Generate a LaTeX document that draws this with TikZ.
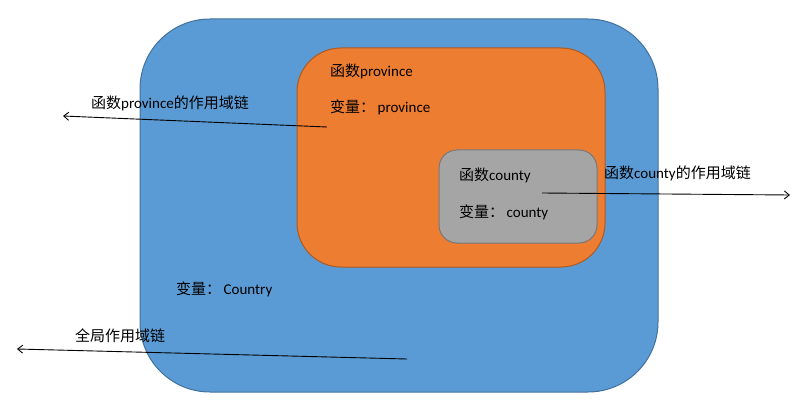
\documentclass[tikz,border=0pt]{standalone}
\usepackage{fontspec}
\setmainfont{Carlito}
\newfontfamily\cjk{Noto Sans CJK SC}
\usetikzlibrary{arrows.meta}
\definecolor{bluefill}{HTML}{5B9BD5}
\definecolor{blueline}{HTML}{41719C}
\definecolor{orfill}{HTML}{ED7D31}
\definecolor{orline}{HTML}{AE5A21}
\definecolor{grfill}{HTML}{A5A5A5}
\definecolor{grline}{HTML}{787878}
\tikzset{
  lbl/.style={anchor=west, inner sep=0pt, font=\fontsize{15}{18}\selectfont, text=black},
  chain/.style={draw=black, line width=0.9pt, -{Straight Barb[length=5pt,width=8pt]}},
}
\begin{document}
\begin{tikzpicture}[x=1pt,y=-1pt]
\useasboundingbox (0,0) rectangle (797,414);
\draw[fill=bluefill, draw=blueline, line width=1pt, rounded corners=70] (140,19) rectangle (658,392);
\draw[fill=orfill, draw=orline, line width=1pt, rounded corners=44] (297,48) rectangle (605,267);
\draw[fill=grfill, draw=grline, line width=1pt, rounded corners=18] (439,150) rectangle (597,243);

\node[lbl] (fp) at (330,71) {{\cjk 函数}province};
\node[lbl] (vp) at (330,107) {{\cjk 变量：}\,province};
\node[lbl] (fc) at (459,175) {{\cjk 函数}county};
\node[lbl] (vc) at (459,212) {{\cjk 变量：}\,county};
\node[lbl] (vg) at (176,289) {{\cjk 变量：}\,Country};

\node[lbl] (pl) at (91,103) {{\cjk 函数}province{\cjk 的作用域链}};
\node[lbl] (cl) at (604,173) {{\cjk 函数}county{\cjk 的作用域链}};
\node[lbl] (gl) at (75,336) {{\cjk 全局作用域链}};

\coordinate (ps) at (327,127);
\coordinate (pe) at (63,116);
\coordinate (cs) at (542,193);
\coordinate (ce) at (790,195);
\coordinate (gs) at (407,359);
\coordinate (ge) at (17,349);
\draw[chain] (ps) -- (pe);
\draw[chain] (cs) -- (ce);
\draw[chain] (gs) -- (ge);
\end{tikzpicture}
\end{document}
